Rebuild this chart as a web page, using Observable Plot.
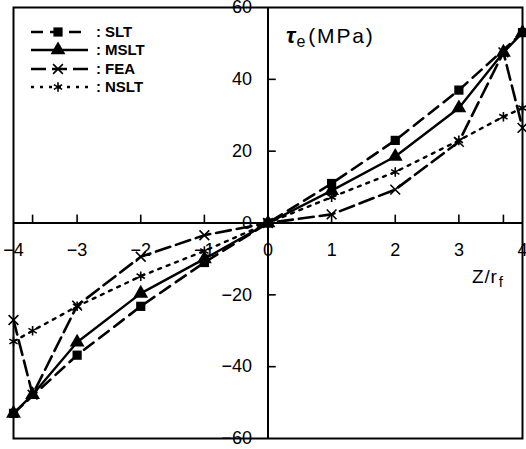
<!DOCTYPE html>
<html><head><meta charset="utf-8">
<script src="https://cdn.jsdelivr.net/npm/d3@7"></script>
<script src="https://cdn.jsdelivr.net/npm/@observablehq/plot@0.6"></script>
<style>
body{margin:0;background:#fff}
#wrap{position:relative;width:526px;height:449px;overflow:hidden}
</style>
</head><body><div id="wrap"></div>
<script>
// ---- data ----
const zPos = [-4, -3.7, -3, -2, -1, 0, 1, 2, 3, 3.7, 4];
const sltZ = [-4, -3, -2, -1, 0, 1, 2, 3, 4];
const sltVals = [-53, -36.8, -23.2, -11, 0, 11, 23, 37, 53];
const msltVals = [-53, -47.8, -33.2, -19.6, -10, 0, 9, 18.5, 32, 47.5, 53];
const feaVals = [-27, -47.8, -23, -9.4, -3.4, 0, 2.4, 9.3, 22.6, 47.5, 26.5];
const nsltVals = [-33, -30, -23.2, -14.8, -7.8, 0, 7.2, 14.2, 23, 29.6, 32];
const seriesNames = ["SLT", "MSLT", "FEA", "NSLT"];
const xTickLabels = [-4, -3, -2, -1, 0, 1, 2, 3, 4];
const xTickMarks = [-3.7, -3, -2, -1, 1, 2, 3, 3.7];
const yTickLabels = [-60, -40, -20, 0, 20, 40, 60];
const yTickMarks = [-40, -20, 20, 40];

// ---- build tables ----
const rows = (name, xs, ys) => xs.map((x, i) => ({series: name, z: x, tau: ys[i]}));
const data = [
  ...rows("SLT", sltZ, sltVals),
  ...rows("MSLT", zPos, msltVals),
  ...rows("FEA", zPos, feaVals),
  ...rows("NSLT", zPos, nsltVals)
];

// ---- styles ----
const sty = {
  SLT:  {dash: "12,7", symbol: "square",   fill: "black", stroke: "none",  r: 5.2, sw: 2.6},
  MSLT: {dash: null,   symbol: "triangle", fill: "black", stroke: "none",  r: 5.5, sw: 2.4},
  FEA:  {dash: "15,6", symbol: "times",    fill: "none",  stroke: "black", r: 4.5, sw: 2.6},
  NSLT: {dash: "3,6",  symbol: "asterisk", fill: "none",  stroke: "black", r: 4.5, sw: 2.4}
};
const fmt = d => d < 0 ? "\u2212" + Math.abs(d) : String(d);

const seriesMarks = seriesNames.flatMap(name => {
  const s = sty[name];
  const d = data.filter(r => r.series === name);
  return [
    Plot.line(d, {x: "z", y: "tau", stroke: "black", strokeWidth: s.sw, strokeDasharray: s.dash, strokeLinejoin: "round"}),
    Plot.dot(d, {x: "z", y: "tau", symbol: () => s.symbol, r: s.r, fill: s.fill, stroke: s.stroke, strokeWidth: 1.6})
  ];
});

const chart = Plot.plot({
  width: 526, height: 449,
  marginLeft: 13, marginRight: 4, marginTop: 7, marginBottom: 11,
  x: {domain: [-4, 4], axis: null},
  y: {domain: [-60, 60], axis: null},
  symbol: {type: "identity"},
  style: {fontFamily: "'Liberation Sans', Arial, sans-serif", fontSize: "17px", color: "black", background: "white"},
  marks: [
    Plot.frame({stroke: "black", strokeWidth: 2}),
    Plot.ruleX([0], {stroke: "black", strokeWidth: 2}),
    Plot.ruleY([0], {stroke: "black", strokeWidth: 2}),
    Plot.ruleX(xTickMarks, {x: d => d, y1: 0, y2: 2.2, stroke: "black", strokeWidth: 1.6}),
    Plot.ruleY(yTickMarks, {y: d => d, x1: 0, x2: 0.13, stroke: "black", strokeWidth: 1.6}),
    Plot.text(xTickLabels, {x: d => d, y: 0, dy: 27, text: fmt, fontSize: 18}),
    Plot.text(yTickLabels, {x: 0, y: d => d, dx: -16, textAnchor: "end", text: fmt, fontSize: 18}),
    ...seriesMarks
  ]
});
document.getElementById("wrap").appendChild(chart);

// ---- annotations & legend ----
const svg = d3.select(chart);
const ff = "'Liberation Sans', Arial, sans-serif";
const t1 = svg.append("text").attr("x", 286).attr("y", 43).attr("fill", "black")
  .attr("text-anchor", "start").style("font-family", ff);
t1.append("tspan").text("\u03c4").attr("font-size", 23).attr("font-weight", "bold").attr("font-style", "italic");
t1.append("tspan").text("e").attr("font-size", 16).attr("dy", 4).attr("dx", 1);
t1.append("tspan").text("(MPa)").attr("font-size", 21).attr("dy", -4).attr("dx", 3).attr("letter-spacing", 1.8);

const t2 = svg.append("text").attr("x", 472).attr("y", 283).attr("fill", "black")
  .attr("text-anchor", "start").style("font-family", ff);
t2.append("tspan").text("Z/r").attr("font-size", 19).attr("letter-spacing", 0.8);
t2.append("tspan").text("f").attr("font-size", 15).attr("dy", 4).attr("dx", 1);

const symMap = {square: d3.symbolSquare, triangle: d3.symbolTriangle, times: d3.symbolTimes, asterisk: d3.symbolAsterisk};
const lg = svg.append("g").style("font-family", ff).attr("text-anchor", "start");
const rowY = [32, 50, 69, 87];
seriesNames.forEach((name, i) => {
  const s = sty[name];
  const y = rowY[i];
  lg.append("line").attr("x1", 31).attr("x2", 88).attr("y1", y).attr("y2", y)
    .attr("stroke", "black").attr("stroke-width", s.sw).attr("stroke-dasharray", s.dash);
  lg.append("path").attr("d", d3.symbol(symMap[s.symbol], Math.PI * s.r * s.r)())
    .attr("transform", `translate(58,${y})`).attr("fill", s.fill).attr("stroke", s.stroke).attr("stroke-width", 1.6);
  lg.append("text").attr("x", 96).attr("y", y).attr("dy", "0.35em").attr("font-size", 15).attr("font-weight", "bold").text(":");
  lg.append("text").attr("x", 105).attr("y", y).attr("dy", "0.35em").attr("font-size", 15).attr("font-weight", "bold").text(name);
});
</script>
</body></html>
